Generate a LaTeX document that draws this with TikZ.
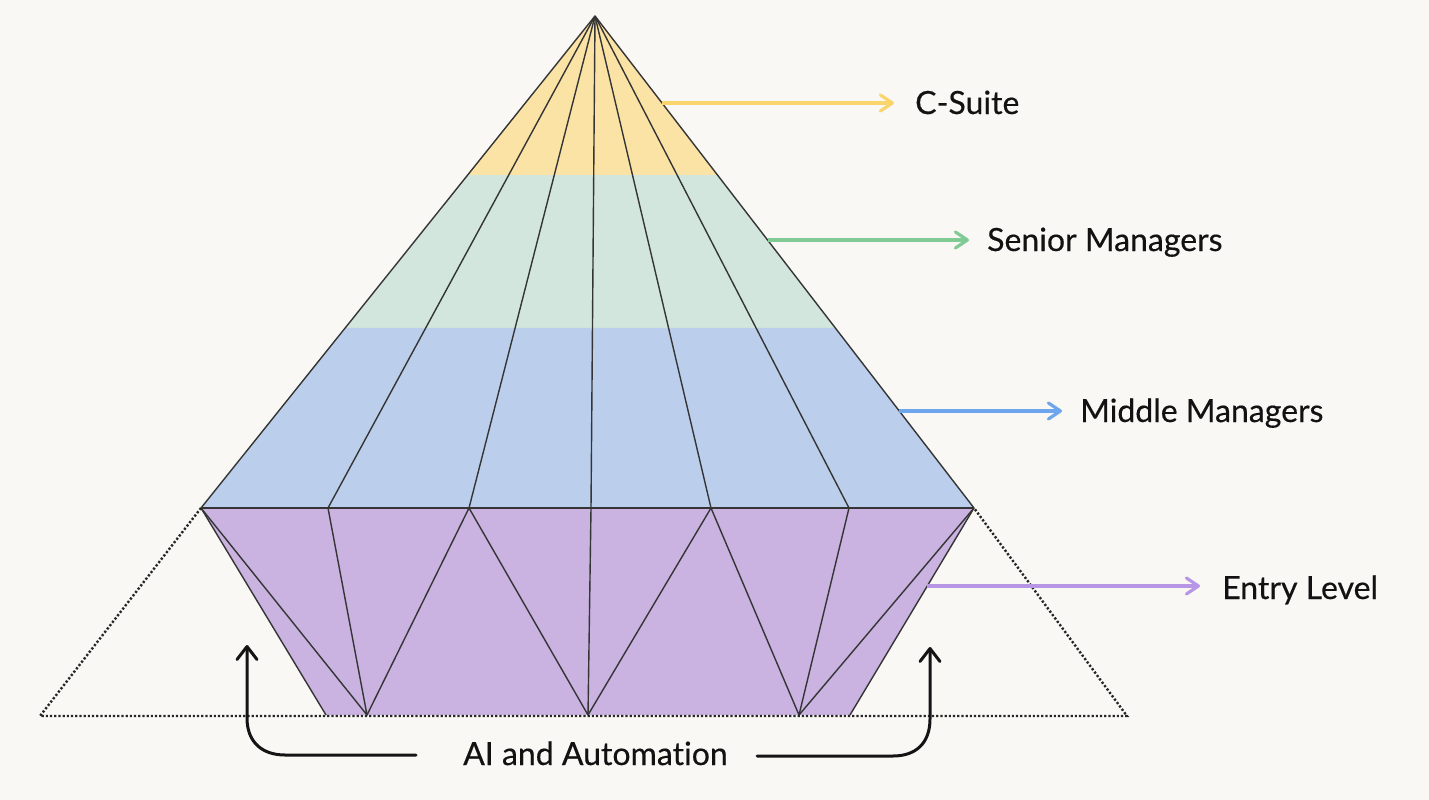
\documentclass[tikz,border=0pt]{standalone}
\usepackage{fontspec}
\setmainfont{Lato}[RawFeature=-liga,FakeBold=0.4]
\usetikzlibrary{calc,arrows.meta}
\definecolor{bgc}{HTML}{FAF8F5}
\definecolor{yfill}{HTML}{FAE3A5}
\definecolor{gfill}{HTML}{D3E6DD}
\definecolor{bfill}{HTML}{BBCFEC}
\definecolor{pfill}{HTML}{CAB2E1}
\definecolor{yarr}{HTML}{F9D56C}
\definecolor{garr}{HTML}{80CB95}
\definecolor{barr}{HTML}{6EA6EE}
\definecolor{parr}{HTML}{B796E6}
\definecolor{edgec}{HTML}{353535}
\definecolor{txt}{HTML}{121212}
\tikzset{
  fan/.style={draw=edgec,line width=1.4pt,line join=round},
  dotline/.style={draw=black!85,line width=2.4pt,dash pattern=on 2.2pt off 2pt},
  lab/.style={anchor=base west,font=\fontsize{32}{36}\selectfont,text=txt,inner sep=0pt},
  colarrow/.style={line width=3.2pt,-{Straight Barb[length=12pt,width=16pt,round]}},
  curvearrow/.style={draw=black!92,line width=3pt,line cap=round,-{Straight Barb[length=13pt,width=20pt,round]}}
}
\begin{document}
\begin{tikzpicture}[x=1pt,y=-1pt]
\fill[bgc] (0,0) rectangle (1429,800);
\useasboundingbox (0,0) rectangle (1429,800);
% key points
\coordinate (A) at (595,16);
\coordinate (L) at (201,508);
\coordinate (R) at (974,508);
\coordinate (P1) at (328,508);
\coordinate (P2) at (469,508);
\coordinate (P3) at (591,508);
\coordinate (P4) at (711,508);
\coordinate (P5) at (849,508);
\coordinate (BL) at (326,715);
\coordinate (BR) at (850,715);
\coordinate (Q1) at (367,715);
\coordinate (Q2) at (588,715);
\coordinate (Q3) at (799,715);
\coordinate (TL) at (40,716);
\coordinate (TR) at (1127,716);
\coordinate (Y1L) at ($(A)!0.3232!(L)$);
\coordinate (Y1R) at ($(A)!0.3232!(R)$);
\coordinate (Y2L) at ($(A)!0.6341!(L)$);
\coordinate (Y2R) at ($(A)!0.6341!(R)$);
% bands
\fill[yfill] (A) -- (Y1R) -- (Y1L) -- cycle;
\fill[gfill] (Y1L) -- (Y1R) -- (Y2R) -- (Y2L) -- cycle;
\fill[bfill] (Y2L) -- (Y2R) -- (R) -- (L) -- cycle;
\fill[pfill] (L) -- (R) -- (BR) -- (BL) -- cycle;
% fan lines
\foreach \p in {L,P1,P2,P3,P4,P5,R} \draw[fan] (A) -- (\p);
\draw[fan] (L) -- (R);
% lower zigzag
\draw[fan] (L) -- (BL);
\draw[fan] (R) -- (BR);
\draw[fan] (L) -- (Q1) -- (P1);
\draw[fan] (Q1) -- (P2) -- (Q2) -- (P3);
\draw[fan] (Q2) -- (P4) -- (Q3) -- (P5);
\draw[fan] (Q3) -- (R);
% dotted triangle
\draw[dotline] (L) -- (TL) -- (TR) -- (R);
% labels
\node[lab] (cs) at (915,114) {C-Suite};
\node[lab] (sm) at (987,251) {Senior Managers};
\node[lab] (mm) at (1080,422) {Middle Managers};
\node[lab] (el) at (1222,599) {Entry Level};
\node[lab] (ai) at (463,765) {AI and Automation};
% colored arrows
\coordinate (ys) at ($(A)!0.1768!(R)$);
\coordinate (gs) at ($(A)!0.4553!(R)$);
\coordinate (bs) at ($(A)!0.8028!(R)$);
\coordinate (ps) at ($(R)!0.3768!(BR)$);
\draw[colarrow,yarr,shorten >=21pt] (ys) -- (ys -| cs.west);
\draw[colarrow,garr,shorten >=18pt] (gs) -- (gs -| sm.west);
\draw[colarrow,barr,shorten >=18pt] (bs) -- (bs -| mm.west);
\draw[colarrow,parr,shorten >=22pt] (ps) -- (ps -| el.west);
% curved arrows
\coordinate (ltip) at (247,645);
\coordinate (rtip) at (930,647);
\coordinate (lst) at (416,755);
\coordinate (rst) at (757,756);
\draw[curvearrow] (lst) -- (285,755) .. controls (262,755) and (247,742) .. (247,718) -- (ltip);
\draw[curvearrow] (rst) -- (893,756) .. controls (916,756) and (930,743) .. (930,719) -- (rtip);
\end{tikzpicture}
\end{document}
